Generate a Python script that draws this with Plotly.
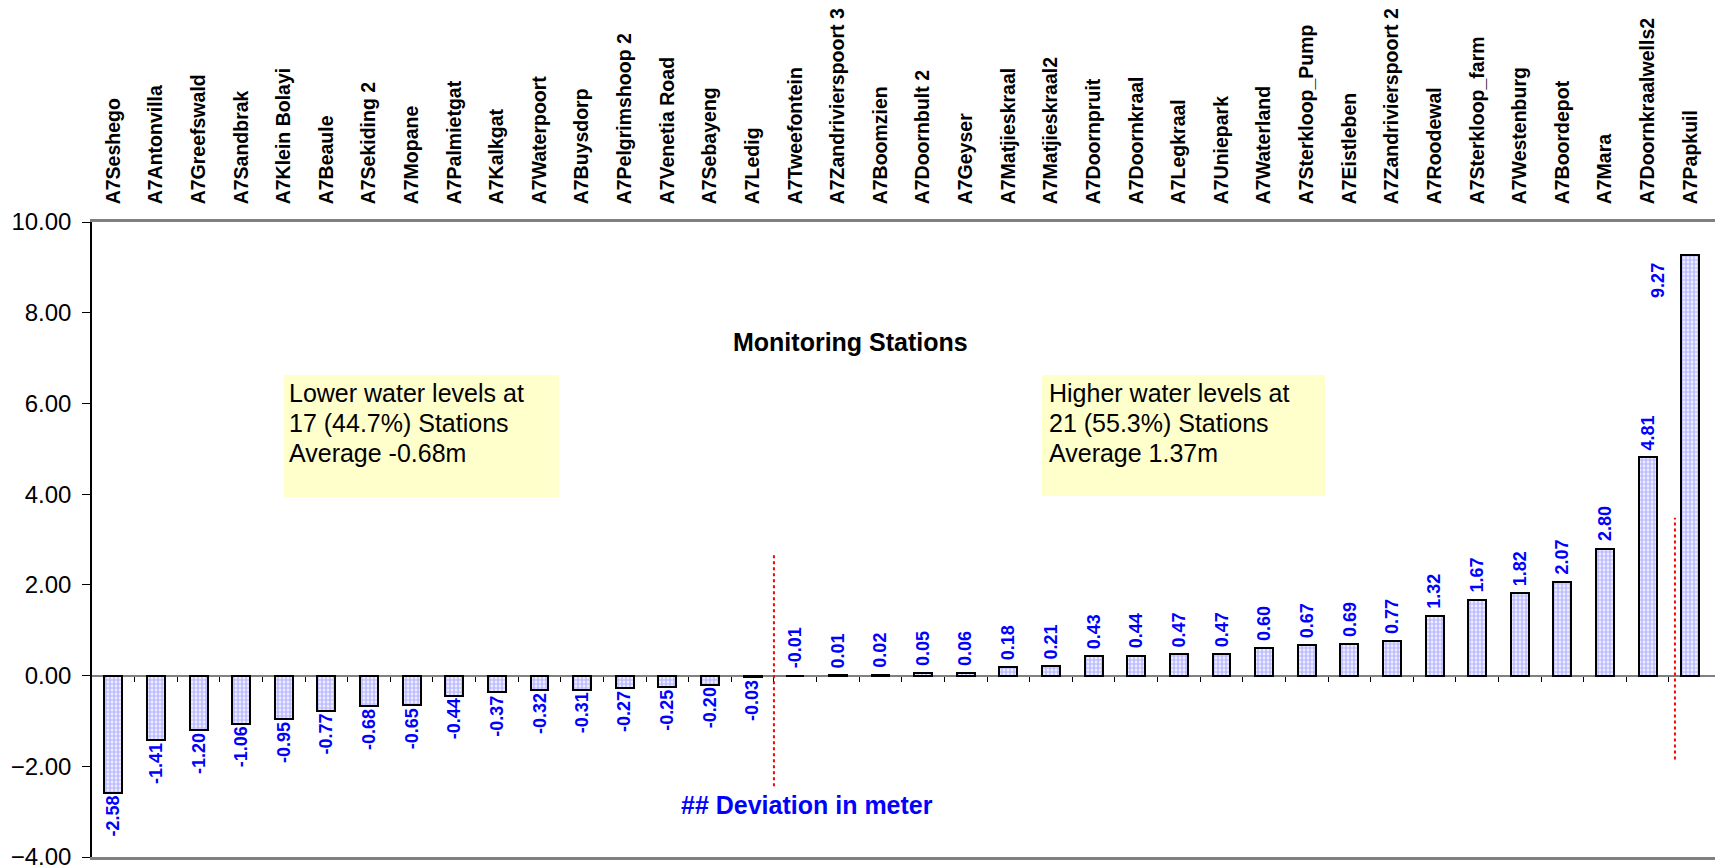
import plotly.graph_objects as go

# Groundwater level deviation per monitoring station (metres)
stations = [
    "A7Seshego", "A7Antonvilla", "A7Greefswald", "A7Sandbrak", "A7Klein Bolayi",
    "A7Beaule", "A7Sekiding 2", "A7Mopane", "A7Palmietgat", "A7Kalkgat",
    "A7Waterpoort", "A7Buysdorp", "A7Pelgrimshoop 2", "A7Venetia Road", "A7Sebayeng",
    "A7Ledig", "A7Tweefontein", "A7Zandrivierspoort 3", "A7Boomzien", "A7Doornbult 2",
    "A7Geyser", "A7Matjieskraal", "A7Matjieskraal2", "A7Doornpruit", "A7Doornkraal",
    "A7Legkraal", "A7Uniepark", "A7Waterland", "A7Sterkloop_Pump", "A7Eistleben",
    "A7Zandrivierspoort 2", "A7Roodewal", "A7Sterkloop_farm", "A7Westenburg",
    "A7Boordepot", "A7Mara", "A7Doornkraalwells2", "A7Papkuil",
]
deviation = [
    -2.58, -1.41, -1.20, -1.06, -0.95, -0.77, -0.68, -0.65, -0.44, -0.37,
    -0.32, -0.31, -0.27, -0.25, -0.20, -0.03, -0.01, 0.01, 0.02, 0.05,
    0.06, 0.18, 0.21, 0.43, 0.44, 0.47, 0.47, 0.60, 0.67, 0.69,
    0.77, 1.32, 1.67, 1.82, 2.07, 2.80, 4.81, 9.27,
]
y_ticks = [-4, -2, 0, 2, 4, 6, 8, 10]

lower_lines = ["Lower water levels at", "17 (44.7%) Stations", "Average -0.68m"]
higher_lines = ["Higher water levels at", "21 (55.3%) Stations", "Average 1.37m"]

FONT = "Liberation Sans, Arial, Helvetica, sans-serif"
Y_MIN, Y_MAX = -4, 10
idx = list(range(len(stations)))
x_range = [-0.5, len(stations) - 0.42]

fig = go.Figure()
fig.add_trace(go.Bar(
    x=idx, y=deviation, width=0.42,
    marker=dict(
        color="white",
        line=dict(color="black", width=2),
        pattern=dict(shape=".", fgcolor="#7C7CFF", bgcolor="white",
                     size=4, solidity=0.7),
    ),
    hoverinfo="skip", showlegend=False,
))
# dummy trace so the category axis drawn through zero gets a subplot
fig.add_trace(go.Scatter(x=[0], y=[0], xaxis="x2", mode="none",
                         hoverinfo="skip", showlegend=False))

# value labels, rotated, outside each bar
annotations = []
for i, v in enumerate(deviation):
    label = f"{v:.2f}"
    font = dict(family=FONT, size=18, color="#0000FF", weight="bold")
    if v + 1.2 > Y_MAX:
        # no room above the tallest bar: tuck the label beside it
        annotations.append(dict(x=i, y=v, xref="x", yref="y", text=label,
                                textangle=-90, showarrow=False, font=font,
                                xanchor="center", yanchor="top",
                                xshift=-33, yshift=-6))
    elif v >= 0 or abs(v) < 0.02:
        annotations.append(dict(x=i, y=max(v, 0), xref="x", yref="y", text=label,
                                textangle=-90, showarrow=False, font=font,
                                xanchor="center", yanchor="bottom", yshift=5))
    else:
        annotations.append(dict(x=i, y=v, xref="x", yref="y", text=label,
                                textangle=-90, showarrow=False, font=font,
                                xanchor="center", yanchor="top", yshift=-1))

annotations += [
    dict(x=0.4673, y=0.811, xref="paper", yref="paper", text="<b>Monitoring Stations</b>",
         showarrow=False, font=dict(family=FONT, size=25, color="black"),
         xanchor="center", yanchor="middle"),
    dict(x=0.4405, y=0.082, xref="paper", yref="paper", text="<b>## Deviation in meter</b>",
         showarrow=False, font=dict(family=FONT, size=25, color="#0000FF"),
         xanchor="center", yanchor="middle"),
]

# summary notes, one annotation per line for a tight line pitch
LINE_PITCH = 30
for x0, lines in ((0.1203, lower_lines), (0.5887, higher_lines)):
    for k, line in enumerate(lines):
        annotations.append(dict(
            x=x0, y=0.756, xref="paper", yref="paper", text=line, align="left",
            showarrow=False, font=dict(family=FONT, size=25, color="black"),
            xanchor="left", yanchor="top", yshift=-LINE_PITCH * k,
        ))

shapes = [
    dict(type="rect", xref="paper", yref="paper", x0=0.1183, x1=0.2877, y0=0.567, y1=0.759,
         fillcolor="#FFFFCC", line=dict(width=0), layer="below"),
    dict(type="rect", xref="paper", yref="paper", x0=0.5853, x1=0.7597, y0=0.5685, y1=0.759,
         fillcolor="#FFFFCC", line=dict(width=0), layer="below"),
    dict(type="line", xref="x", yref="y", x0=15.5, x1=15.5, y0=-2.44, y1=2.67,
         line=dict(color="red", width=2, dash="dot")),
    dict(type="line", xref="x", yref="y", x0=36.64, x1=36.64, y0=-1.85, y1=3.48,
         line=dict(color="red", width=2, dash="dot")),
]

fig.update_layout(
    width=1715, height=867,
    margin=dict(l=92, r=0, t=222, b=10),
    paper_bgcolor="white", plot_bgcolor="white",
    font=dict(family=FONT, color="black"),
    bargap=0,
    annotations=annotations,
    shapes=shapes,
    xaxis=dict(
        range=x_range, side="top", automargin=False,
        tickmode="array", tickvals=idx, ticktext=stations,
        tickangle=-90, ticks="", ticklabelstandoff=11,
        tickfont=dict(family=FONT, size=19.5, color="black", weight="bold"),
        showline=True, linecolor="#808080", linewidth=2.5, mirror=True,
        showgrid=False, zeroline=False, layer="below traces",
    ),
    xaxis2=dict(
        overlaying="x", anchor="free", position=(0 - Y_MIN) / (Y_MAX - Y_MIN),
        side="bottom", range=x_range, automargin=False,
        tickmode="array", tickvals=[i + 0.5 for i in idx[:-1]],
        ticks="outside", ticklen=5, tickcolor="black", tickwidth=1,
        showticklabels=False,
        showline=True, linecolor="#808080", linewidth=2,
        showgrid=False, zeroline=False, layer="below traces",
    ),
    yaxis=dict(
        range=[Y_MIN, Y_MAX], tickmode="array", tickvals=y_ticks,
        tickformat=".2f", automargin=False,
        ticks="outside", ticklen=8, tickcolor="black", tickwidth=1,
        ticklabelstandoff=6, ticklabeloverflow="allow",
        tickfont=dict(family=FONT, size=24, color="black"),
        showline=True, linecolor="black", linewidth=1.5,
        showgrid=False, zeroline=False,
    ),
)

fig.write_html("out.html")
